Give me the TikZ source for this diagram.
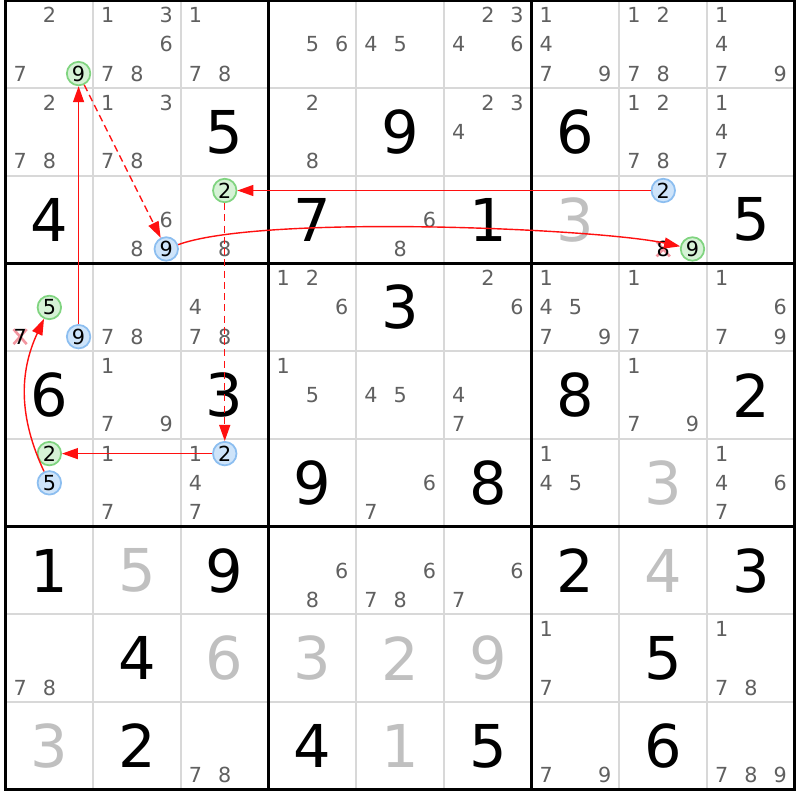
\documentclass[tikz,border=0pt]{standalone}
\usepackage{fontspec}
\setmainfont{DejaVu Sans}
\usetikzlibrary{arrows.meta}

\definecolor{gridgray}{RGB}{216,216,216}
\definecolor{solvedgray}{RGB}{192,192,192}
\definecolor{pencilgray}{RGB}{96,96,96}
\definecolor{onfill}{RGB}{214,242,214}
\definecolor{ongreen}{RGB}{128,212,128}
\definecolor{offfill}{RGB}{206,228,250}
\definecolor{offblue}{RGB}{140,190,240}
\definecolor{strikered}{RGB}{242,150,160}
\definecolor{linkred}{RGB}{255,16,16}

\tikzset{
    gridline/.style={draw=gridgray,line width=0.55pt},
    boxline/.style={draw=black,line width=0.9pt},
    given/.style={text=black,font=\fontsize{16.8}{17}\selectfont,inner sep=0pt},
    solved/.style={given,text=solvedgray},
    pencil/.style={text=pencilgray,font=\fontsize{5.9}{6}\selectfont,inner sep=0pt},
    oncand/.style={pencil,text=black,circle,draw=ongreen,fill=onfill,line width=0.5pt,minimum size=0.235cm},
    offcand/.style={oncand,draw=offblue,fill=offfill},
    struck/.style={pencil,text=black},
    strikeline/.style={draw=strikered,line width=0.75pt},
    link/.style={draw=linkred,line width=0.4pt,-{Triangle[length=1.6mm,width=1.1mm]}},
    weaklink/.style={link,dash pattern=on 2pt off 1.2pt}
}

\newcommand{\pencilmark}[4][pencil]{%
    \node(k#2#3#4) [#1] at ({#3+(mod(#4-1,3)+0.5)/3},{-(#2+(floor((#4-1)/3)+0.5)/3)}) {#4};}

\newcommand{\strikemark}[3]{%
    \coordinate(x#1#2#3) at ({#2+(mod(#3-1,3)+0.5)/3},{-(#1+(floor((#3-1)/3)+0.5)/3)});
    \draw[strikeline] (x#1#2#3) +(-0.075,-0.085) -- +(0.075,0.085)
                      (x#1#2#3) +(-0.075,0.085) -- +(0.075,-0.085);
    \pencilmark[struck]{#1}{#2}{#3}}

\begin{document}
\begin{tikzpicture}

    \useasboundingbox (0,0) rectangle (8,8);

    \begin{scope}[shift={(0.055,7.995)},x=0.877cm,y=0.877cm]

    \foreach \i in {1,2,4,5,7,8} {
        \draw[gridline] (\i,0) -- (\i,-9);
        \draw[gridline] (0,-\i) -- (9,-\i);
    }
    \foreach \i in {3,6} {
        \draw[boxline] (\i,0) -- (\i,-9);
        \draw[boxline] (0,-\i) -- (9,-\i);
    }
    \draw[boxline] (0,0) rectangle (9,-9);

    \foreach \r/\c/\d in {1/2/5,1/4/9,1/6/6,2/0/4,2/3/7,2/5/1,2/8/5,3/4/3,4/0/6,4/2/3,4/6/8,4/8/2,
        5/3/9,5/5/8,6/0/1,6/2/9,6/6/2,6/8/3,7/1/4,7/7/5,8/1/2,8/3/4,8/5/5,8/7/6}
      \node(d\r\c) [given] at (\c+0.5,-\r-0.5) {\d};

    \foreach \r/\c/\d in {2/6/3,5/7/3,6/1/5,6/7/4,7/2/6,7/3/3,7/4/2,7/5/9,8/0/3,8/4/1}
      \node(d\r\c) [solved] at (\c+0.5,-\r-0.5) {\d};

    \foreach \r/\c/\l in {0/0/{2,7},0/1/{1,3,6,7,8},0/2/{1,7,8},0/3/{5,6},0/4/{4,5},0/5/{2,3,4,6},
        0/6/{1,4,7,9},0/7/{1,2,7,8},0/8/{1,4,7,9},1/0/{2,7,8},1/1/{1,3,7,8},1/3/{2,8},1/5/{2,3,4},
        1/7/{1,2,7,8},1/8/{1,4,7},2/1/{6,8},2/2/{8},2/4/{6,8},3/1/{7,8},3/2/{4,7,8},3/3/{1,2,6},
        3/5/{2,6},3/6/{1,4,5,7,9},3/7/{1,7},3/8/{1,6,7,9},4/1/{1,7,9},4/3/{1,5},4/4/{4,5},4/5/{4,7},
        4/7/{1,7,9},5/1/{1,7},5/2/{1,4,7},5/4/{6,7},5/6/{1,4,5},5/8/{1,4,6,7},6/3/{6,8},6/4/{6,7,8},
        6/5/{6,7},7/0/{7,8},7/6/{1,7},7/8/{1,7,8},8/2/{7,8},8/6/{7,9},8/8/{7,8,9}}
      \foreach \n in \l
        \pencilmark{\r}{\c}{\n};

    \strikemark{2}{7}{8}
    \strikemark{3}{0}{7}

    \pencilmark[oncand]{0}{0}{9}
    \pencilmark[oncand]{2}{2}{2}
    \pencilmark[oncand]{2}{7}{9}
    \pencilmark[oncand]{3}{0}{5}
    \pencilmark[oncand]{5}{0}{2}

    \pencilmark[offcand]{2}{1}{9}
    \pencilmark[offcand]{2}{7}{2}
    \pencilmark[offcand]{3}{0}{9}
    \pencilmark[offcand]{5}{0}{5}
    \pencilmark[offcand]{5}{2}{2}

    \draw[link] (k309) -- (k009);
    \draw[weaklink] (k009) -- (k219);
    \draw[link] (k219) to[out=20,in=168,looseness=0.45] (k279);
    \draw[link] (k272) -- (k222);
    \draw[weaklink] (k222) -- (k522);
    \draw[link] (k522) -- (k502);
    \draw[link] (k505) to[bend left=25] (k305);

    \end{scope}

  \end{tikzpicture}
\end{document}
